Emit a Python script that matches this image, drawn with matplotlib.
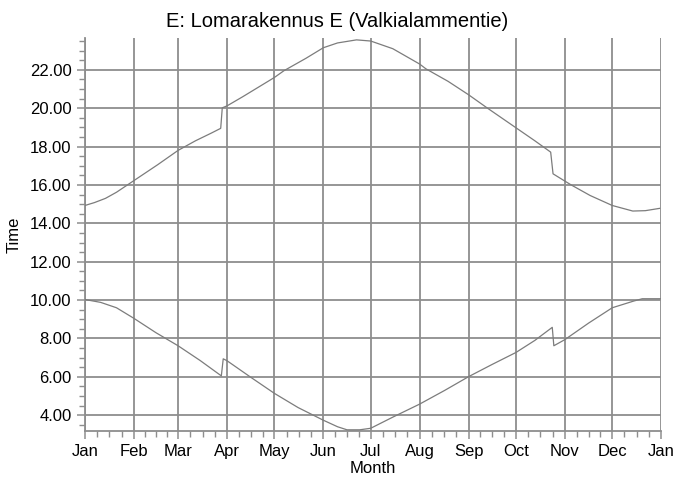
import matplotlib
matplotlib.use("Agg")
import matplotlib.pyplot as plt
from matplotlib.ticker import FixedLocator, MultipleLocator, FormatStrFormatter

plt.rcParams['font.family'] = ['Liberation Sans', 'DejaVu Sans']

# month starts (day of year) and labels
month_days = [0, 31, 59, 90, 120, 151, 181, 212, 243, 273, 304, 334, 365]
month_labels = ["Jan", "Feb", "Mar", "Apr", "May", "Jun", "Jul",
                "Aug", "Sep", "Oct", "Nov", "Dec", "Jan"]

# upper curve
top_day = [0, 6, 13, 20, 26, 36, 46, 59, 70, 80, 86, 87, 90, 100, 110, 120,
           126, 140, 151, 160, 172, 181, 195, 212, 216, 230, 243, 255, 273,
           285, 295, 296.5, 304, 308, 320, 334, 347, 355, 364]
top_val = [14.93, 15.08, 15.3, 15.62, 15.95, 16.5, 17.05, 17.8, 18.3, 18.7,
           18.95, 20.02, 20.12, 20.6, 21.1, 21.6, 21.95, 22.6, 23.15, 23.4,
           23.56, 23.5, 23.1, 22.3, 22.05, 21.4, 20.7, 20.0, 18.98, 18.3,
           17.71, 16.58, 16.2, 16.0, 15.45, 14.93, 14.64, 14.66, 14.78]

# lower curve
low_day = [0, 10, 20, 31, 45, 59, 73, 86.4, 87.6, 90, 105, 120, 135, 151,
           160, 166, 174, 181, 195, 212, 228, 243, 258, 273, 285, 296, 297,
           304, 319, 334, 347.6, 353, 365]
low_val = [10.03, 9.88, 9.6, 9.05, 8.3, 7.62, 6.85, 6.05, 6.94, 6.84, 5.98,
           5.14, 4.4, 3.74, 3.4, 3.24, 3.24, 3.32, 3.9, 4.58, 5.3, 6.01, 6.65,
           7.27, 7.9, 8.58, 7.62, 7.94, 8.8, 9.6, 9.95, 10.07, 10.07]

fig = plt.figure(figsize=(6.74, 4.78), dpi=100)
ax = fig.add_axes([0.126, 0.098, 0.855, 0.823])

gcol = "#8e8e8e"
ax.plot(top_day, top_val, color="#7c7c7c", linewidth=0.9, zorder=3)
ax.plot(low_day, low_val, color="#7c7c7c", linewidth=0.9, zorder=3)

ax.set_xlim(0, 365)
ax.set_ylim(3.17, 23.67)

ax.xaxis.set_major_locator(FixedLocator(month_days))
ax.set_xticklabels(month_labels)
minor = []
for a, b in zip(month_days[:-1], month_days[1:]):
    minor += [a + (b - a) * k / 4 for k in (1, 2, 3)]
ax.xaxis.set_minor_locator(FixedLocator(minor))

ax.yaxis.set_major_locator(MultipleLocator(2))
ax.yaxis.set_minor_locator(MultipleLocator(0.5))
ax.yaxis.set_major_formatter(FormatStrFormatter("%.2f"))

ax.grid(which="major", color=gcol, linewidth=1.3)
ax.set_axisbelow(True)

for s in ("top", "right"):
    ax.spines[s].set_visible(False)
for s in ("left", "bottom"):
    ax.spines[s].set_color(gcol)
    ax.spines[s].set_linewidth(1.3)

ax.tick_params(which="major", length=6, width=1.1, color=gcol, labelsize=12)
ax.tick_params(which="minor", length=4, width=1.0, color=gcol)

fig.text(0.5, 1 - 27 / 478, "E: Lomarakennus E (Valkialammentie)",
         fontsize=14.5, ha="center", va="baseline")
ax.set_xlabel("Month", fontsize=12, labelpad=1)
ax.set_ylabel("Time", fontsize=12, labelpad=6)

fig.savefig("out.png", dpi=100)
